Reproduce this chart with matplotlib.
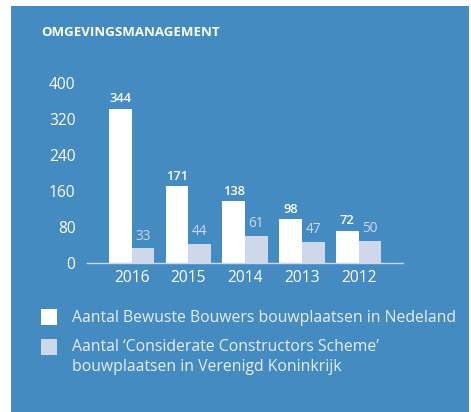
import matplotlib
matplotlib.use("Agg")
import matplotlib.pyplot as plt
from matplotlib.patches import Rectangle
import numpy as np

years = ["2016", "2015", "2014", "2013", "2012"]
nl_values = [344, 171, 138, 98, 72]
uk_values = [33, 44, 61, 47, 50]
yticks = [0, 80, 160, 240, 320, 400]
title = "OMGEVINGSMANAGEMENT"
legend_labels = ["Aantal Bewuste Bouwers bouwplaatsen in Nedeland",
                 "Aantal \u2018Considerate Constructors Scheme\u2019\nbouwplaatsen in Verenigd Koninkrijk"]

BG = "#448BC2"
WHITE = "#FFFFFF"
LIGHT = "#CDD9EB"

W, H = 471, 412
fig = plt.figure(figsize=(W/100, H/100), dpi=100)
fig.patch.set_facecolor("white")
fig.patches.append(Rectangle((11/W, 0), (469-11)/W, (H-6)/H, transform=fig.transFigure,
                             facecolor=BG, edgecolor="none", zorder=-5))

fam = ["Open Sans", "DejaVu Sans"]
fig.text(41/W, 1-32/H, title, color="white", fontsize=9.5, fontweight="bold",
         family=fam, va="center", ha="left")

ax_left, ax_right = 86.7, 403
y0_px, y400_px = 263.3, 83.3
ymax = 420
ytop_px = y0_px - (y0_px - y400_px) * ymax / 400
ax = fig.add_axes([ax_left/W, 1-y0_px/H, (ax_right-ax_left)/W, (y0_px-ytop_px)/H])
ax.set_facecolor("none")
ax.patch.set_alpha(0)
ax.set_zorder(2)

px_per_unit = 56.7
xmin = -(109 + 22.7 - ax_left) / px_per_unit
xmax = xmin + (ax_right - ax_left) / px_per_unit
x = np.arange(len(years))
bw = 22.7 / px_per_unit
ax.bar(x - bw/2, nl_values, width=bw, color=WHITE, edgecolor="none", zorder=2)
ax.bar(x + bw/2, uk_values, width=bw, color=LIGHT, edgecolor="none", zorder=2)
for xi, v in zip(x, nl_values):
    ax.text(xi - bw/2, v + 8, str(v), ha="center", va="bottom", color=WHITE,
            fontsize=9.3, family=fam, fontweight="semibold")
for xi, v in zip(x, uk_values):
    ax.text(xi + bw/2, v + 11, str(v), ha="center", va="bottom", color=LIGHT,
            fontsize=9.8, family=fam)

ax.set_xlim(xmin, xmax)
ax.set_ylim(0, ymax)
ax.set_yticks(yticks)
ax.set_yticklabels([str(t) for t in yticks], family=fam, fontsize=11.2, color="white")
ax.set_xticks(x)
ax.set_xticklabels(years, family=fam, fontsize=11.2, color="white")
ax.tick_params(axis="both", length=0)
ax.tick_params(axis="y", pad=8)
ax.tick_params(axis="x", pad=5)
for s in ["top", "right", "left"]:
    ax.spines[s].set_visible(False)
ax.spines["bottom"].set_color("#CDD9EB")
ax.spines["bottom"].set_linewidth(1.0)

def fig_rect(x0, y0, x1, y1, color):
    fig.patches.append(Rectangle((x0/W, 1-y1/H), (x1-x0)/W, (y1-y0)/H,
                                 transform=fig.transFigure, facecolor=color,
                                 edgecolor="none", zorder=3))

fig_rect(41, 309, 56.7, 324.7, WHITE)
fig_rect(41, 339, 56.7, 354.5, LIGHT)
fig.text(71.7/W, 1-318/H, legend_labels[0], color="#E8EEF6", fontsize=11.3,
         family=fam, va="center", ha="left")
fig.text(71.7/W, 1-339/H, legend_labels[1], color="#E8EEF6", fontsize=11.3,
         family=fam, va="top", ha="left", linespacing=1.3)

fig.savefig("out.png", dpi=100, facecolor=fig.get_facecolor())
